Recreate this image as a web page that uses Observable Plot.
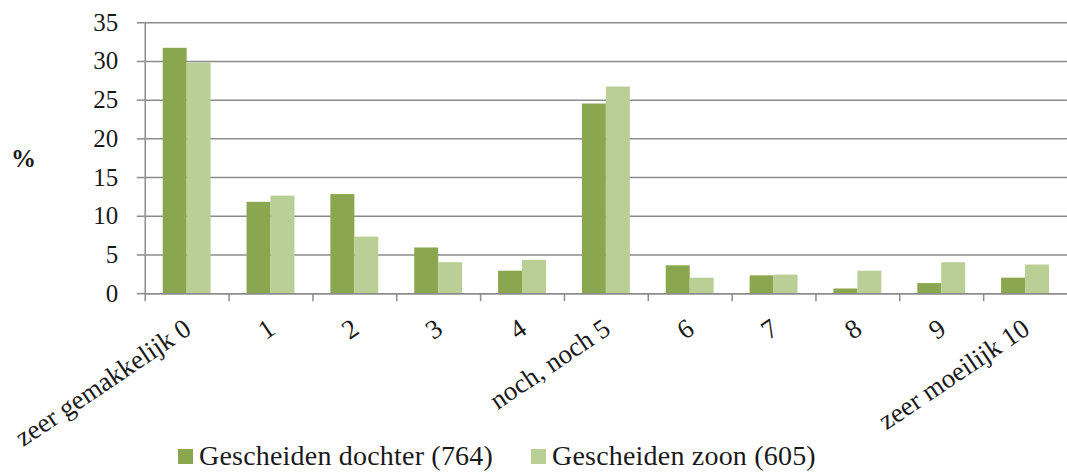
<!DOCTYPE html>
<html>
<head>
<meta charset="utf-8">
<script src="https://cdn.jsdelivr.net/npm/d3@7"></script>
<script src="https://cdn.jsdelivr.net/npm/@observablehq/plot@0.6"></script>
<style>
  html, body { margin: 0; padding: 0; background: #fff; overflow: hidden; }
  #wrap { position: relative; width: 1067px; height: 473px; overflow: hidden; }
  #legend { position: absolute; left: 178px; top: 440px; display: flex; align-items: center;
            font-family: "Liberation Serif", serif; font-size: 28px; color: #1a1a1a; letter-spacing: 0.2px; }
  .item { display: flex; align-items: center; margin-right: 38px; }
  .sw { width: 15px; height: 15px; margin-right: 6px; }
  #ylab { position: absolute; left: 11px; top: 145px; font-family: "Liberation Serif", serif;
          font-weight: bold; font-size: 25px; color: #1a1a1a; }
  svg text { font-family: "Liberation Serif", serif; }
</style>
</head>
<body>
<div id="wrap"></div>
<script>
const categories = ["zeer gemakkelijk 0", "1", "2", "3", "4", "noch, noch 5", "6", "7", "8", "9", "zeer moeilijk 10"];
const dochter = [31.7, 11.8, 12.8, 5.9, 2.9, 24.5, 3.6, 2.3, 0.6, 1.3, 2.0];
const zoon = [29.8, 12.6, 7.3, 4.0, 4.3, 26.7, 2.0, 2.4, 2.9, 4.0, 3.7];
const seriesNames = ["Gescheiden dochter (764)", "Gescheiden zoon (605)"];
const seriesColors = ["#8aa64e", "#b9cf95"];
const yTicks = [0, 5, 10, 15, 20, 25, 30, 35];
const yLabel = "%";

const dataD = categories.map((c, i) => ({category: c, value: dochter[i]}));
const dataZ = categories.map((c, i) => ({category: c, value: zoon[i]}));
const grey = "#8c8c8c";
const serif = "Liberation Serif, serif";

const chart = Plot.plot({
  width: 1069,
  height: 473,
  marginLeft: 145,
  marginRight: 0,
  marginTop: 22.3,
  marginBottom: 179.3,
  x: {domain: categories, padding: 0, axis: null, label: null},
  y: {domain: [0, 35], axis: null, label: null},
  style: {fontFamily: serif, color: "#1a1a1a", background: "white", overflow: "visible"},
  marks: [
    Plot.gridY(yTicks, {stroke: grey, strokeOpacity: 1, strokeWidth: 1.5}),
    Plot.barY(dataD, {x: "category", y: "value", fill: seriesColors[0], insetLeft: 18, insetRight: 42}),
    Plot.barY(dataZ, {x: "category", y: "value", fill: seriesColors[1], insetLeft: 42, insetRight: 18}),
    Plot.ruleY([0], {stroke: grey, strokeWidth: 1.5}),
    Plot.ruleX([categories[0]], {dx: -42, y1: 0, y2: 35, stroke: grey, strokeWidth: 1.5}),
    Plot.axisY(yTicks, {tickSize: 8, tickPadding: 19, fontSize: 25, fontFamily: serif, stroke: grey, strokeWidth: 1.5, label: null}),
    Plot.axisX({tickSize: 8, tickFormat: () => "", dx: -42, stroke: grey, strokeWidth: 1.5, label: null}),
    Plot.axisX({tickSize: 0, tickPadding: 32, tickRotate: -34, fontSize: 27, fontFamily: serif, dx: 1, label: null})
  ]
});

const wrap = document.getElementById("wrap");
wrap.appendChild(chart);

const yl = document.createElement("div");
yl.id = "ylab";
yl.textContent = yLabel;
wrap.appendChild(yl);

const legend = document.createElement("div");
legend.id = "legend";
seriesNames.forEach((name, i) => {
  const item = document.createElement("div");
  item.className = "item";
  const sw = document.createElement("div");
  sw.className = "sw";
  sw.style.background = seriesColors[i];
  const t = document.createElement("span");
  t.textContent = name;
  item.appendChild(sw);
  item.appendChild(t);
  legend.appendChild(item);
});
wrap.appendChild(legend);
</script>
</body>
</html>
